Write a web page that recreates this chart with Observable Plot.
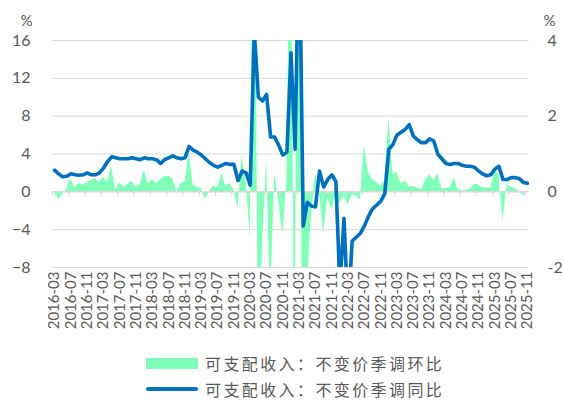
<!DOCTYPE html>
<html>
<head>
<meta charset="utf-8">
<script src="https://cdn.jsdelivr.net/npm/d3@7"></script>
<script src="https://cdn.jsdelivr.net/npm/@observablehq/plot@0.6"></script>
<style>
  body { margin: 0; background: #fff; }
  #wrap { width: 564px; height: 400px; position: relative; overflow: hidden; }
  .legend-row { position: absolute; left: 146px; height: 24px; display: flex; align-items: center; }
  .legend-row span { font-family: "Noto Sans CJK SC", sans-serif; font-size: 16px; line-height: 1; letter-spacing: 2.4px; color: #595959; margin-left: 7px; }
  .sw-area { width: 52px; height: 11px; background: #80ffb9; }
  .sw-line { width: 52px; height: 4px; background: #0070c0; border-radius: 2px; }
</style>
</head>
<body>
<div id="wrap">
  <div id="chart"></div>
  <div class="legend-row" style="top:351px"><div class="sw-area"></div><span id="lg1"></span></div>
  <div class="legend-row" style="top:377px"><div class="sw-line"></div><span id="lg2"></span></div>
</div>
<script>
// ---- data ----
const startMonth = "2016-03";
const endMonth = "2025-11";
const seriesNames = ["可支配收入：不变价季调环比", "可支配收入：不变价季调同比"];
const leftTicks = [-8, -4, 0, 4, 8, 12, 16];
const rightTicks = [-2, 0, 2, 4];
const unitLabel = "%";

// 同比 (left axis, %)
const yoy = [
  2.3, 1.9, 1.6, 1.65, 1.9, 1.8, 1.75, 1.8, 2.0, 1.8, 1.8, 2.0,
  2.5, 3.2, 3.7, 3.6, 3.5, 3.5, 3.5, 3.6, 3.5, 3.4, 3.6, 3.5,
  3.5, 3.4, 3.0, 3.4, 3.6, 3.8, 3.6, 3.5, 3.6, 4.8, 4.4, 4.2,
  3.9, 3.5, 3.1, 2.8, 2.6, 2.8, 3.0, 2.9, 2.9, 1.2, 2.2, 2.0,
  0.7, 17.0, 10.0, 9.6, 10.3, 5.8, 5.8, 4.9, 3.9, 4.2, 14.7, 4.5,
  29.0, -3.6, -1.1, -1.5, -1.6, 2.2, 0.5, 1.3, 1.8, 1.1, -10.0, -2.8,
  -13.0, -5.2, -4.8, -4.4, -3.6, -2.6, -1.8, -1.4, -1.0, -0.2, 4.5, 5.0,
  6.0, 6.3, 6.6, 7.1, 5.9, 5.5, 5.2, 5.2, 5.6, 5.4, 4.0, 3.5,
  3.0, 2.9, 3.0, 3.0, 2.8, 2.7, 2.7, 2.6, 2.2, 1.9, 1.7, 1.8,
  2.4, 2.7, 1.3, 1.3, 1.5, 1.5, 1.4, 1.0, 0.9
];
// 环比 (right axis, %)
const mom = [
  -0.03, -0.2, -0.08, 0.08, 0.35, 0.1, 0.22, 0.18, 0.25, 0.3, 0.35, 0.25,
  0.4, 0.25, 0.68, 0.05, 0.25, 0.12, 0.2, 0.28, 0.12, 0.18, 0.58, 0.22,
  0.32, 0.22, 0.32, 0.4, 0.42, 0.35, 0.0, 0.22, 0.25, 1.05, 0.18, 0.12,
  0.08, -0.2, 0.0, 0.15, 0.1, 0.48, 0.15, 0.22, 0.05, -0.45, 0.95, 0.3,
  -1.25, 13.0, -4.8, -1.5, 0.88, -3.0, 0.5, -0.25, -1.15, 0.4, 10.0, -7.3,
  21.0, -14.0, -2.5, -0.68, 0.5, 0.0, -1.1, -0.15, -0.5, -0.05, -0.32, -0.1,
  -0.35, -0.08, -0.12, -0.22, 1.25, 0.5, 0.32, 0.25, 0.15, 0.3, 1.95, 0.45,
  0.52, 0.2, 0.3, 0.12, 0.15, 0.1, 0.05, 0.3, 0.45, 0.3, 0.48, 0.08,
  0.08, 0.1, 0.38, 0.05, 0.03, 0.03, 0.08, 0.2, 0.18, 0.1, 0.1, 0.1,
  0.55, 0.45, -0.8, 0.2, 0.12, 0.08, 0.0, -0.12, 0.05
];
const labelEvery = 4;

// ---- derived ----
const parse = d3.utcParse("%Y-%m");
const fmt = d3.utcFormat("%Y-%m");
const months = d3.utcMonth.range(parse(startMonth), d3.utcMonth.offset(parse(endMonth), 1));
const monthLabels = months.map(fmt);
const n = monthLabels.length;
const ratio = d3.max(leftTicks) / d3.max(rightTicks);
const labelIdx = d3.range(0, n, labelEvery);
const tickBounds = labelIdx.map(i => i - 0.5);

const yoyData = yoy.map((v, i) => ({i, v}));
const momData = mom.map((v, i) => ({i, v: v * ratio}));

const textColor = "#595959";
const gridColor = "#d9d9d9";

const chart = Plot.plot({
  width: 564,
  height: 348,
  marginLeft: 52,
  marginRight: 35,
  marginTop: 40,
  marginBottom: 81,
  style: { fontFamily: "Lato, sans-serif", color: textColor, background: "#fff" },
  x: { type: "linear", domain: [-0.5, n - 0.5] },
  y: { domain: [d3.min(leftTicks), d3.max(leftTicks)] },
  marks: [
    Plot.ruleY(leftTicks.filter(d => d !== 0), { stroke: gridColor, strokeWidth: 1 }),
    Plot.areaY(momData, { x: "i", y: "v", fill: "#80ffb9", curve: "linear", clip: true }),
    Plot.ruleY([0], { stroke: gridColor, strokeWidth: 1.5 }),
    Plot.ruleX(tickBounds, { x: d => d, y1: 0, y2: -0.45, stroke: gridColor, strokeWidth: 1.2 }),
    Plot.line(yoyData, { x: "i", y: "v", stroke: "#0070c0", strokeWidth: 3.6, strokeLinejoin: "round", strokeLinecap: "round", curve: "linear", clip: true }),
    Plot.axisY(leftTicks, { anchor: "left", tickSize: 0, tickPadding: 22, fontSize: 16, label: null, fill: textColor }),
    Plot.axisY(rightTicks.map(d => d * ratio), { anchor: "right", tickSize: 0, tickPadding: 18, fontSize: 16, label: null, fill: textColor, tickFormat: d => d / ratio }),
    Plot.axisX(labelIdx, { anchor: "bottom", tickSize: 0, tickPadding: 4, tickRotate: -90, fontSize: 15, label: null, fill: textColor, tickFormat: i => monthLabels[i] }),
    Plot.text([unitLabel], { frameAnchor: "top-left", dx: -32, dy: -25, fontSize: 15, fill: textColor }),
    Plot.text([unitLabel], { frameAnchor: "top-right", dx: 26, dy: -25, fontSize: 15, fill: textColor })
  ]
});
document.getElementById("chart").appendChild(chart);
document.getElementById("lg1").textContent = seriesNames[0];
document.getElementById("lg2").textContent = seriesNames[1];
</script>
</body>
</html>
